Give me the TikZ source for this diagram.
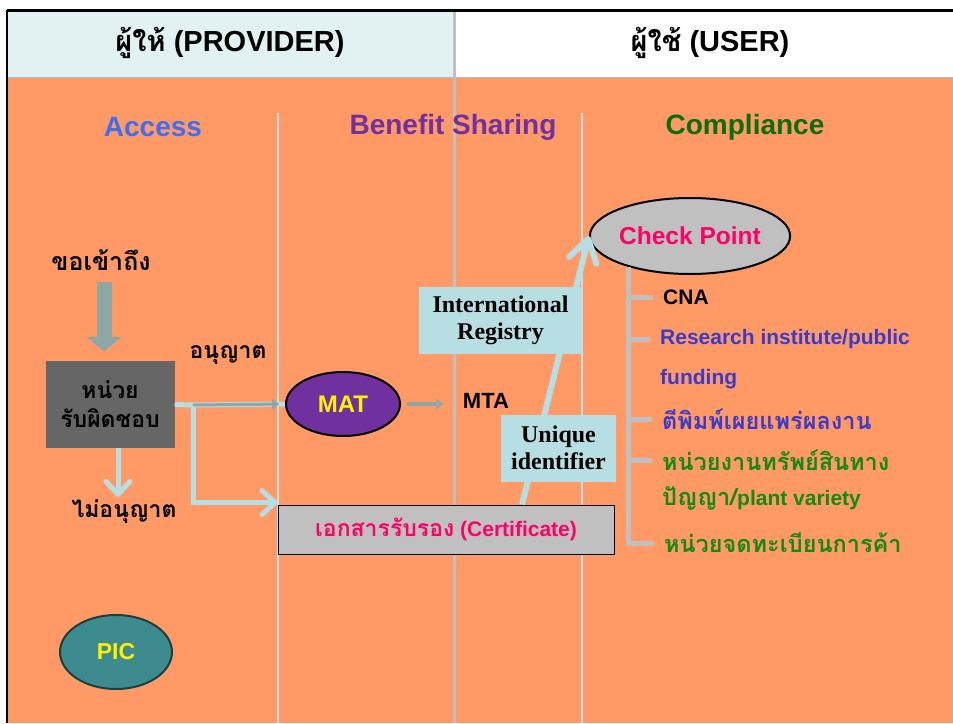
\documentclass[tikz,border=0pt]{standalone}
\usepackage{fontspec}
\setmainfont{Liberation Sans}
\newfontfamily\thaifont[Script=Thai]{Loma}
\newfontfamily\timesfont{Liberation Serif}
\usepackage{tikz}
\usetikzlibrary{positioning, arrows.meta, shapes.geometric}

\definecolor{bgorange}{HTML}{FF9966}
\definecolor{headleft}{HTML}{E2F2F2}
\definecolor{paleblue}{HTML}{B7DEE2}
\definecolor{darrow}{HTML}{8FA6A6}
\definecolor{boxgray}{HTML}{666666}
\definecolor{lightgray}{HTML}{C0C0C0}
\definecolor{matpurple}{HTML}{7030A0}
\definecolor{hotpink}{HTML}{FF0066}
\definecolor{accblue}{HTML}{3F6EF0}
\definecolor{compgreen}{HTML}{0B6E0B}
\definecolor{listblue}{HTML}{3B3BCB}
\definecolor{listgreen}{HTML}{138A13}
\definecolor{picteal}{HTML}{3D8B8F}

\newcommand{\fsz}[1]{\fontsize{#1}{#1}\selectfont}

\begin{document}
\begin{tikzpicture}[
  x=1pt, y=-1pt,
  every node/.style={align=center, font=\bfseries, inner sep=0pt},
  head/.style={font=\bfseries\fsz{29}},
  col/.style={font=\bfseries\fsz{28}},
  thai/.style={font=\bfseries\thaifont\fsz{#1}},
  item/.style={anchor=west, font=\bfseries\fsz{21}},
  thaiitem/.style={anchor=west, font=\bfseries\thaifont\fsz{23.5}},
  oval/.style={ellipse, draw=black, line width=2pt},
  tag/.style={fill=paleblue, font=\bfseries\timesfont\fsz{24}, minimum height=67pt},
  pale/.style={draw=paleblue, line width=5pt},
  palearrow/.style={pale, -{Straight Barb[length=13pt, width=24pt, line cap=round, line join=round]}},
  grayarrow/.style={draw=darrow, -{Triangle[length=7pt, width=11pt]}},
  tree/.style={draw=lightgray, line width=5pt},
  lane/.style={draw=paleblue!85!white, line width=2pt}
  ]

\useasboundingbox (0,0) rectangle (953,723);

% frame and lanes
\fill[headleft] (7,10) rectangle (454,77);
\fill[white] (454,10) rectangle (953,77);
\fill[bgorange] (7,77) rectangle (953,723);
\draw[line width=0.8pt, color=paleblue!70!gray] (7,77) -- (953,77);
\draw[lane] (278,113) -- (278,723);
\draw[lane] (582,113) -- (582,723);
\draw[line width=3pt, color=lightgray] (454,11) -- (454,723);
\draw[line width=3pt] (7,10) -- (953,10);
\draw[line width=2.5pt] (7,10) -- (7,723);

\node[head] (prov) at (230,43) {{\thaifont ผู้ให้} (PROVIDER)};
\node[head] (user) at (710,43) {{\thaifont ผู้ใช้} (USER)};

\node[col, text=accblue] (access) at (153,127) {Access};
\node[col, text=matpurple] (share) at (453,127) {Benefit Sharing};
\node[col, text=compgreen] (comply) at (745,127) {Compliance};

% access lane
\node[thai=25] (ask) at (101,260) {ขอเข้าถึง};
\node[fill=boxgray, minimum width=129pt, minimum height=87pt, thai=23] (resp) at (110,404.5) {หน่วย\\[6pt]รับผิดชอบ};
\node[thai=23] (allow) at (228,355) {อนุญาต};
\node[thai=23] (deny) at (124,512) {ไม่อนุญาต};
\node[oval, fill=picteal, draw=picteal!45!black, minimum width=112pt, minimum height=74pt, text=yellow, font=\bfseries\fsz{23}] (pic) at (116,652) {PIC};

% benefit sharing
\node[oval, fill=matpurple, minimum width=114pt, minimum height=64pt, text=yellow, font=\bfseries\fsz{24}] (mat) at (343,404) {MAT};
\node[font=\bfseries\fsz{22}] (mta) at (486,401) {MTA};
\node[draw=black, line width=0.8pt, fill=lightgray, minimum width=336pt, minimum height=49pt, text=hotpink, font=\bfseries\fsz{21}] (cert) at (446,529.5) {{\thaifont\fsz{23}เอกสารรับรอง} (Certificate)};

% compliance
\node[oval, fill=lightgray, minimum width=200pt, minimum height=76pt, text=hotpink, font=\bfseries\fsz{24.5}] (check) at (690,236) {Check Point};
\node[item] (cna) at (663,297) {CNA};
\node[item, text=listblue] (ris) at (660,339) {Research institute/public};
\node[item, text=listblue] (fund) at (660,379) {funding};
\node[thaiitem, text=listblue] (pub) at (662,419) {ตีพิมพ์เผยแพร่ผลงาน};
\node[thaiitem, text=listgreen] (ip) at (662,460) {หน่วยงานทรัพย์สินทาง};
\node[thaiitem, text=listgreen] (ip2) at (662,498) {ปัญญา/{\rmfamily\fsz{21}plant variety}};
\node[thaiitem, text=listgreen] (tm) at (664,543) {หน่วยจดทะเบียนการค้า};

% connectors
\draw[line width=15pt, color=darrow, -{Triangle[length=15pt, width=34pt]}, shorten <=11pt, shorten >=9pt] ([xshift=3pt]ask.south) -- ([xshift=3pt]ask.south |- resp.north);
\draw[palearrow, shorten >=3pt] ([xshift=8pt]resp.south) -- ([xshift=8pt]resp.south |- deny.north);
\coordinate (turn) at (193,405);
\draw[pale] (resp.east) -- (turn) -- (mat.west);
\draw[palearrow] (turn) |- ([yshift=2pt]cert.north west);
\draw[grayarrow, line width=3pt, shorten >=6pt] (turn) -- (mat.west);
\draw[grayarrow, line width=4pt, shorten <=6pt] (mat.east) -- ++(42,0);
\draw[palearrow, line width=6pt, -{Straight Barb[length=22pt, width=28pt, line cap=round, line join=round]}] ([xshift=76pt]cert.north) -- (check.west);
\foreach \n in {cna, ris, pub, ip, tm}
  \draw[tree, shorten >=10pt] (check.207) |- (\n.west);

\node[tag, minimum width=163pt] (reg) at (500.5,320.5) {International\\[3pt]Registry};
\node[tag, minimum width=115pt] (uid) at (558.5,448) {Unique\\[3pt]identifier};

\end{tikzpicture}
\end{document}
